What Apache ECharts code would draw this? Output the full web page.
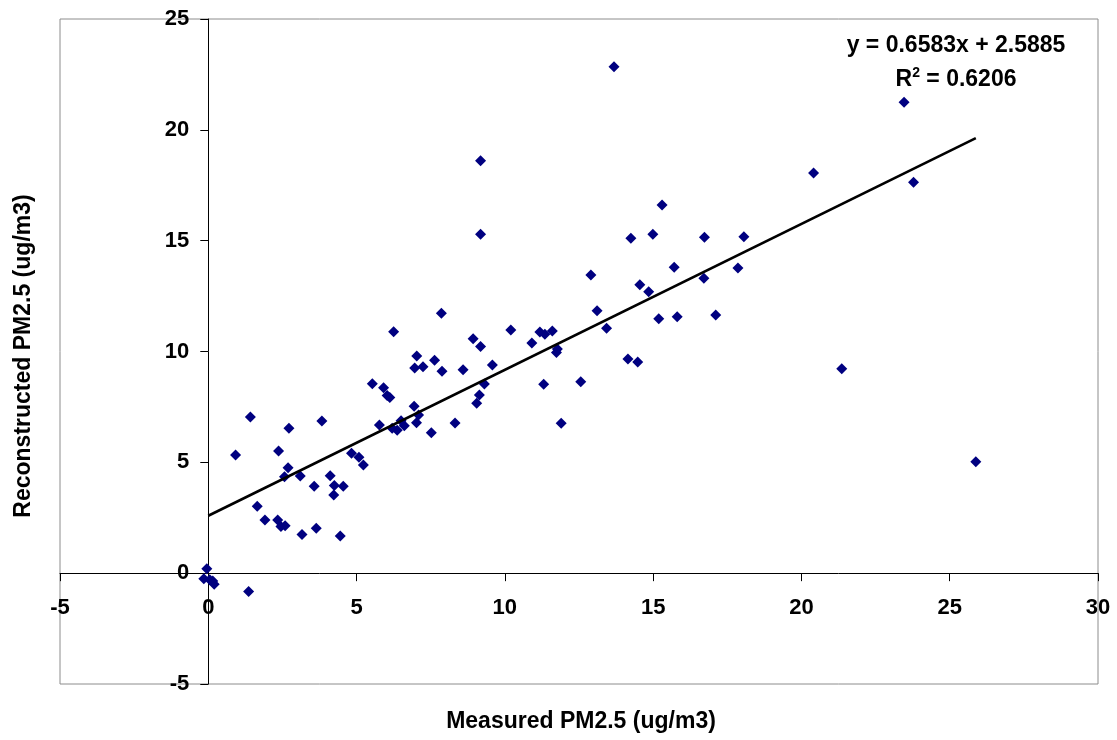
<!DOCTYPE html>
<html>
<head>
<meta charset="utf-8">
<script src="https://cdn.jsdelivr.net/npm/echarts@6/dist/echarts.min.js"></script>
<style>
html,body{margin:0;padding:0;background:#fff;}
#chart{width:1117px;height:740px;}
</style>
</head>
<body>
<div id="chart"></div>
<script>
// Measured PM2.5 (x) and Reconstructed PM2.5 (y)
const measured = [
  -0.05, -0.15, 0.05, 0.15, 0.2, 1.36,
  1.42, 0.92, 2.72, 3.83, 2.37, 2.69, 2.57, 3.10, 3.57, 4.11, 4.25, 4.55, 4.23, 4.83, 5.08, 5.23,
  1.65, 1.91, 2.34, 2.45, 2.59, 3.16, 3.64, 4.45,
  5.53, 5.91, 6.03, 6.12, 6.94, 7.09, 7.02, 6.50, 6.61, 6.20, 6.37, 5.77, 7.52, 8.32,
  7.03, 6.96, 7.24, 7.63, 7.88, 8.59, 9.58, 9.31, 9.14, 9.05, 11.31, 12.56, 11.90,
  7.86, 6.25, 8.93, 9.18, 10.20, 10.91, 11.18, 11.35, 11.60, 11.77, 11.74, 14.15, 14.48,
  13.11, 13.43, 15.19, 15.81, 17.11,
  12.90, 15.71, 17.86, 16.71, 14.55, 14.85,
  9.18, 14.25, 14.99, 16.73, 18.06, 15.30,
  9.18, 20.41, 23.78, 23.46, 13.68, 21.36, 25.88
];
const reconstructed = [
  0.2, -0.25, -0.3, -0.35, -0.5, -0.83,
  7.05, 5.33, 6.54, 6.87, 5.51, 4.76, 4.35, 4.38, 3.92, 4.40, 3.96, 3.92, 3.53, 5.41, 5.23, 4.88,
  3.02, 2.40, 2.40, 2.10, 2.14, 1.75, 2.03, 1.68,
  8.55, 8.37, 8.01, 7.93, 7.53, 7.14, 6.79, 6.88, 6.65, 6.54, 6.45, 6.68, 6.34, 6.78,
  9.80, 9.26, 9.31, 9.60, 9.11, 9.18, 9.39, 8.53, 8.04, 7.66, 8.52, 8.64, 6.76,
  11.72, 10.89, 10.58, 10.22, 10.97, 10.38, 10.88, 10.78, 10.92, 10.11, 9.96, 9.66, 9.53,
  11.84, 11.05, 11.48, 11.57, 11.65,
  13.45, 13.80, 13.77, 13.30, 13.01, 12.70,
  15.29, 15.11, 15.29, 15.15, 15.18, 16.61,
  18.61, 18.05, 17.63, 21.25, 22.85, 9.22, 5.03
];
// Linear trendline reported on the chart
const slope = 0.6583;
const intercept = 2.5885;
const r2 = 0.6206;
const xTicks = [-5, 0, 5, 10, 15, 20, 25, 30];
const yTicks = [-5, 0, 5, 10, 15, 20, 25];
const xTitle = 'Measured PM2.5 (ug/m3)';
const yTitle = 'Reconstructed PM2.5 (ug/m3)';

const points = measured.map((x, i) => [x, reconstructed[i]]);
const xMaxData = Math.max(...measured);
const trend = [[0, intercept], [xMaxData, slope * xMaxData + intercept]];

const W = 1117, H = 740;
const grid = { left: 60, right: 19, top: 19, bottom: 56 };
const gridW = W - grid.left - grid.right;
const gridH = H - grid.top - grid.bottom;
const xMin = xTicks[0], xMax = xTicks[xTicks.length - 1];
const yMin = yTicks[0], yMax = yTicks[yTicks.length - 1];
// axes cross at zero (Excel style): shift axes inward to the zero position
const xAxisOffset = -gridH * (0 - yMin) / (yMax - yMin);
const yAxisOffset = -gridW * (0 - xMin) / (xMax - xMin);

const FONT = '"Liberation Sans", Arial, sans-serif';
const chart = echarts.init(document.getElementById('chart'));
chart.setOption({
  backgroundColor: '#ffffff',
  animation: false,
  grid: Object.assign({ show: true, borderColor: '#8c8c8c', borderWidth: 1, backgroundColor: 'transparent' }, grid),
  xAxis: {
    type: 'value', min: xMin, max: xMax, interval: 5,
    position: 'bottom', offset: xAxisOffset,
    axisLine: { onZero: false, lineStyle: { color: '#000', width: 1 } },
    axisTick: { show: true, inside: false, length: 8, lineStyle: { color: '#000' } },
    axisLabel: { margin: 24, color: '#000', fontWeight: 'bold', fontSize: 22, fontFamily: FONT },
    splitLine: { show: false }
  },
  yAxis: {
    type: 'value', min: yMin, max: yMax, interval: 5,
    position: 'left', offset: yAxisOffset,
    axisLine: { onZero: false, lineStyle: { color: '#000', width: 1 } },
    axisTick: { show: true, inside: false, length: 8, lineStyle: { color: '#000' } },
    axisLabel: { margin: 19, color: '#000', fontWeight: 'bold', fontSize: 22, fontFamily: FONT },
    splitLine: { show: false }
  },
  series: [
    {
      type: 'scatter', data: points, symbol: 'diamond', symbolSize: 11,
      itemStyle: { color: '#000080', opacity: 1 }, z: 3
    },
    {
      type: 'line', data: trend, symbol: 'none', z: 4,
      lineStyle: { color: '#000', width: 2.6 }
    }
  ],
  graphic: [
    {
      type: 'text', x: 956, y: 46,
      style: { text: 'y = ' + slope + 'x + ' + intercept, font: 'bold 23px ' + FONT, fill: '#000', align: 'center', verticalAlign: 'middle' }
    },
    {
      type: 'text', x: 956, y: 80,
      style: {
        text: '{n|R}{s|2}{n| = ' + r2 + '}', align: 'center', verticalAlign: 'middle',
        rich: {
          n: { font: 'bold 23px ' + FONT, fill: '#000', verticalAlign: 'middle' },
          s: { font: 'bold 14px ' + FONT, fill: '#000', verticalAlign: 'top', padding: [0, 0, 14, 0] }
        }
      }
    },
    {
      type: 'text', x: 581, y: 722,
      style: { text: xTitle, font: 'bold 23px ' + FONT, fill: '#000', align: 'center', verticalAlign: 'middle' }
    },
    {
      type: 'text', x: 24, y: 356, rotation: Math.PI / 2,
      style: { text: yTitle, font: 'bold 23px ' + FONT, fill: '#000', align: 'center', verticalAlign: 'middle' }
    }
  ]
});
</script>
</body>
</html>
